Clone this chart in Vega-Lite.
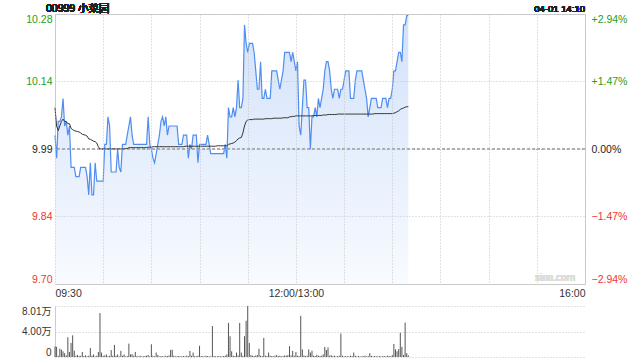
{
  "$schema": "https://vega.github.io/schema/vega-lite/v6.json",
  "background": "white",
  "padding": {"left": 5, "right": 5, "top": 3, "bottom": 5},
  "spacing": 5,
  "config": {
    "font": "Liberation Sans, Noto Sans CJK SC, sans-serif",
    "view": {"stroke": "#cccccc"},
    "axis": {"domain": false, "ticks": false, "labelFont": "Liberation Sans, Noto Sans CJK SC, sans-serif", "labelFontSize": 10.5, "labelColor": "#333333", "gridColor": "#c4c4c4", "gridDash": [1, 2], "gridWidth": 1, "title": null}
  },
  "datasets": {
    "m": [
      {"t":0,"p":10.02,"a":10.08,"v":16500},{"t":1,"p":9.97,"a":10.04,"v":16000},{"t":2,"p":10.05,"a":10.03,"v":2000},{"t":3,"p":10.05,"a":10.04,"v":13000},{"t":4,"p":10.06,"a":10.05,"v":11500},{"t":5,"p":10.10,"a":10.055,"v":9000},{"t":6,"p":10.04,"a":10.05,"v":6000},{"t":7,"p":10.05,"a":10.05,"v":2500},{"t":8,"p":10.02,"a":10.045,"v":31000},{"t":9,"p":10.04,"a":10.045,"v":8000},
      {"t":10,"p":9.95,"a":10.035,"v":22000},{"t":11,"p":9.95,"a":10.032,"v":34000},{"t":12,"p":9.95,"a":10.03,"v":10000},{"t":13,"p":9.93,"a":10.029,"v":2000},{"t":14,"p":9.93,"a":10.028,"v":3000},{"t":15,"p":9.93,"a":10.027,"v":1500},{"t":16,"p":9.95,"a":10.025,"v":1800},{"t":17,"p":9.95,"a":10.022,"v":8000},{"t":18,"p":9.95,"a":10.021,"v":1500},{"t":19,"p":9.95,"a":10.02,"v":2500},
      {"t":20,"p":9.93,"a":10.018,"v":1200},{"t":21,"p":9.89,"a":10.012,"v":2000},{"t":22,"p":9.96,"a":10.011,"v":14000},{"t":23,"p":9.89,"a":10.009,"v":2000},{"t":24,"p":9.89,"a":10.007,"v":4000},{"t":25,"p":9.96,"a":10.006,"v":1000},{"t":26,"p":9.92,"a":10.003,"v":2000},{"t":27,"p":9.92,"a":9.995,"v":8000},{"t":28,"p":9.92,"a":9.99,"v":69000},{"t":29,"p":9.92,"a":9.99,"v":7000},
      {"t":30,"p":9.92,"a":9.99,"v":2000},{"t":31,"p":10.00,"a":9.99,"v":2500},{"t":32,"p":10.00,"a":9.99,"v":4000},{"t":33,"p":10.06,"a":9.99,"v":1200},{"t":34,"p":10.04,"a":9.99,"v":2000},{"t":35,"p":9.94,"a":9.99,"v":11000},{"t":36,"p":9.94,"a":9.99,"v":2000},{"t":37,"p":9.94,"a":9.99,"v":19000},{"t":38,"p":9.94,"a":9.99,"v":2000},{"t":39,"p":9.99,"a":9.99,"v":4000},
      {"t":40,"p":9.95,"a":9.99,"v":1000},{"t":41,"p":9.94,"a":9.99,"v":9600},{"t":42,"p":10.00,"a":9.99,"v":2000},{"t":43,"p":10.00,"a":9.99,"v":4000},{"t":44,"p":10.00,"a":9.991,"v":1000},{"t":45,"p":10.02,"a":9.991,"v":1500},{"t":46,"p":10.04,"a":9.993,"v":21000},{"t":47,"p":10.06,"a":9.993,"v":4000},{"t":48,"p":10.02,"a":9.993,"v":4500},{"t":49,"p":10.00,"a":9.993,"v":2000},
      {"t":50,"p":10.00,"a":9.993,"v":8000},{"t":51,"p":10.00,"a":9.993,"v":1500},{"t":52,"p":10.00,"a":9.993,"v":1000},{"t":53,"p":10.00,"a":9.993,"v":2000},{"t":54,"p":10.00,"a":9.993,"v":1000},{"t":55,"p":10.00,"a":9.993,"v":1200},{"t":56,"p":10.00,"a":9.993,"v":1500},{"t":57,"p":10.00,"a":9.993,"v":2000},{"t":58,"p":10.06,"a":9.994,"v":3000},{"t":59,"p":10.00,"a":9.994,"v":1000},
      {"t":60,"p":9.99,"a":9.994,"v":20000},{"t":61,"p":9.97,"a":9.995,"v":2000},{"t":62,"p":9.96,"a":9.995,"v":1000},{"t":63,"p":9.98,"a":9.995,"v":7000},{"t":64,"p":10.00,"a":9.995,"v":3000},{"t":65,"p":10.02,"a":9.995,"v":1000},{"t":66,"p":10.05,"a":9.995,"v":1500},{"t":67,"p":10.06,"a":9.995,"v":1200},{"t":68,"p":10.04,"a":9.995,"v":1000},{"t":69,"p":10.06,"a":9.995,"v":2000},
      {"t":70,"p":10.02,"a":9.995,"v":1500},{"t":71,"p":10.04,"a":9.995,"v":2500},{"t":72,"p":10.04,"a":9.995,"v":11000},{"t":73,"p":10.04,"a":9.995,"v":11500},{"t":74,"p":10.04,"a":9.995,"v":2000},{"t":75,"p":10.04,"a":9.995,"v":1000},{"t":76,"p":10.04,"a":9.995,"v":1200},{"t":77,"p":10.00,"a":9.995,"v":1500},{"t":78,"p":10.00,"a":9.995,"v":1000},{"t":79,"p":10.00,"a":9.995,"v":1200},
      {"t":80,"p":10.02,"a":9.995,"v":1500},{"t":81,"p":10.02,"a":9.996,"v":1000},{"t":82,"p":10.02,"a":9.996,"v":2000},{"t":83,"p":9.97,"a":9.996,"v":1500},{"t":84,"p":10.00,"a":9.996,"v":9600},{"t":85,"p":9.99,"a":9.996,"v":2000},{"t":86,"p":10.02,"a":9.996,"v":7000},{"t":87,"p":10.02,"a":9.996,"v":1500},{"t":88,"p":10.02,"a":9.996,"v":1000},{"t":89,"p":9.96,"a":9.996,"v":2000},
      {"t":90,"p":10.00,"a":9.996,"v":17600},{"t":91,"p":10.00,"a":9.996,"v":1500},{"t":92,"p":10.00,"a":9.996,"v":1200},{"t":93,"p":10.00,"a":9.996,"v":1000},{"t":94,"p":10.00,"a":9.996,"v":2000},{"t":95,"p":10.02,"a":9.996,"v":1500},{"t":96,"p":10.00,"a":9.996,"v":1000},{"t":97,"p":9.98,"a":9.996,"v":1200},{"t":98,"p":9.98,"a":9.996,"v":48600},{"t":99,"p":9.98,"a":9.996,"v":1500},
      {"t":100,"p":9.98,"a":9.996,"v":1200},{"t":101,"p":9.98,"a":9.997,"v":1000},{"t":102,"p":9.98,"a":9.997,"v":1500},{"t":103,"p":9.98,"a":9.997,"v":1200},{"t":104,"p":9.98,"a":9.997,"v":1000},{"t":105,"p":9.98,"a":9.997,"v":1500},{"t":106,"p":10.00,"a":9.997,"v":2000},{"t":107,"p":9.97,"a":9.997,"v":4000},{"t":108,"p":10.08,"a":10.0,"v":53500},{"t":109,"p":10.06,"a":10.001,"v":32600},
      {"t":110,"p":10.06,"a":10.002,"v":9000},{"t":111,"p":10.08,"a":10.003,"v":2000},{"t":112,"p":10.06,"a":10.005,"v":1500},{"t":113,"p":10.08,"a":10.008,"v":7000},{"t":114,"p":10.14,"a":10.012,"v":2500},{"t":115,"p":10.08,"a":10.014,"v":53500},{"t":116,"p":10.08,"a":10.015,"v":7000},{"t":117,"p":10.10,"a":10.025,"v":2000},{"t":118,"p":10.26,"a":10.04,"v":32600},{"t":119,"p":10.22,"a":10.05,"v":57000},
      {"t":120,"p":10.20,"a":10.053,"v":80100},{"t":121,"p":10.22,"a":10.054,"v":22000},{"t":122,"p":10.22,"a":10.054,"v":3000},{"t":123,"p":10.22,"a":10.054,"v":2000},{"t":124,"p":10.20,"a":10.055,"v":1500},{"t":125,"p":10.16,"a":10.055,"v":2500},{"t":126,"p":10.12,"a":10.055,"v":3000},{"t":127,"p":10.12,"a":10.055,"v":13000},{"t":128,"p":10.18,"a":10.055,"v":2000},{"t":129,"p":10.10,"a":10.055,"v":1500},
      {"t":130,"p":10.10,"a":10.055,"v":30000},{"t":131,"p":10.12,"a":10.056,"v":2000},{"t":132,"p":10.10,"a":10.056,"v":1500},{"t":133,"p":10.10,"a":10.056,"v":7000},{"t":134,"p":10.10,"a":10.056,"v":2000},{"t":135,"p":10.16,"a":10.056,"v":1500},{"t":136,"p":10.16,"a":10.057,"v":1000},{"t":137,"p":10.16,"a":10.057,"v":2000},{"t":138,"p":10.16,"a":10.057,"v":3000},{"t":139,"p":10.14,"a":10.057,"v":1500},
      {"t":140,"p":10.12,"a":10.057,"v":2000},{"t":141,"p":10.14,"a":10.057,"v":1000},{"t":142,"p":10.16,"a":10.058,"v":1500},{"t":143,"p":10.20,"a":10.058,"v":2500},{"t":144,"p":10.20,"a":10.058,"v":2000},{"t":145,"p":10.20,"a":10.058,"v":3000},{"t":146,"p":10.20,"a":10.06,"v":17000},{"t":147,"p":10.18,"a":10.06,"v":2500},{"t":148,"p":10.20,"a":10.061,"v":9600},{"t":149,"p":10.18,"a":10.061,"v":2000},
      {"t":150,"p":10.16,"a":10.062,"v":8000},{"t":151,"p":10.18,"a":10.062,"v":2000},{"t":152,"p":10.04,"a":10.062,"v":1500},{"t":153,"p":10.02,"a":10.062,"v":64700},{"t":154,"p":10.08,"a":10.062,"v":12000},{"t":155,"p":10.14,"a":10.062,"v":2500},{"t":156,"p":10.14,"a":10.062,"v":1500},{"t":157,"p":10.08,"a":10.062,"v":2000},{"t":158,"p":10.08,"a":10.062,"v":12000},{"t":159,"p":9.99,"a":10.062,"v":7000},
      {"t":160,"p":10.06,"a":10.062,"v":10000},{"t":161,"p":10.06,"a":10.063,"v":2000},{"t":162,"p":10.08,"a":10.063,"v":1500},{"t":163,"p":10.06,"a":10.063,"v":3500},{"t":164,"p":10.10,"a":10.063,"v":2000},{"t":165,"p":10.08,"a":10.063,"v":1500},{"t":166,"p":10.10,"a":10.063,"v":2000},{"t":167,"p":10.12,"a":10.064,"v":4000},{"t":168,"p":10.16,"a":10.064,"v":15800},{"t":169,"p":10.18,"a":10.064,"v":11000},
      {"t":170,"p":10.18,"a":10.065,"v":15000},{"t":171,"p":10.16,"a":10.065,"v":2000},{"t":172,"p":10.12,"a":10.065,"v":3000},{"t":173,"p":10.10,"a":10.065,"v":1500},{"t":174,"p":10.12,"a":10.065,"v":2000},{"t":175,"p":10.12,"a":10.065,"v":1000},{"t":176,"p":10.12,"a":10.066,"v":1500},{"t":177,"p":10.10,"a":10.066,"v":2000},{"t":178,"p":10.12,"a":10.066,"v":36900},{"t":179,"p":10.12,"a":10.066,"v":2000},
      {"t":180,"p":10.14,"a":10.066,"v":1000},{"t":181,"p":10.16,"a":10.066,"v":1500},{"t":182,"p":10.16,"a":10.066,"v":1200},{"t":183,"p":10.16,"a":10.066,"v":1000},{"t":184,"p":10.10,"a":10.066,"v":2000},{"t":185,"p":10.10,"a":10.066,"v":1500},{"t":186,"p":10.10,"a":10.066,"v":7000},{"t":187,"p":10.14,"a":10.066,"v":2000},{"t":188,"p":10.16,"a":10.066,"v":1000},{"t":189,"p":10.16,"a":10.066,"v":1500},
      {"t":190,"p":10.16,"a":10.066,"v":1200},{"t":191,"p":10.16,"a":10.066,"v":1000},{"t":192,"p":10.14,"a":10.066,"v":1500},{"t":193,"p":10.12,"a":10.066,"v":2000},{"t":194,"p":10.10,"a":10.066,"v":1000},{"t":195,"p":10.06,"a":10.066,"v":1500},{"t":196,"p":10.08,"a":10.066,"v":6000},{"t":197,"p":10.10,"a":10.066,"v":2000},{"t":198,"p":10.10,"a":10.066,"v":1000},{"t":199,"p":10.10,"a":10.067,"v":1500},
      {"t":200,"p":10.10,"a":10.067,"v":1200},{"t":201,"p":10.08,"a":10.067,"v":1000},{"t":202,"p":10.08,"a":10.067,"v":1500},{"t":203,"p":10.08,"a":10.067,"v":1000},{"t":204,"p":10.10,"a":10.067,"v":1200},{"t":205,"p":10.10,"a":10.067,"v":1500},{"t":206,"p":10.10,"a":10.067,"v":1000},{"t":207,"p":10.08,"a":10.067,"v":2000},{"t":208,"p":10.10,"a":10.067,"v":1500},{"t":209,"p":10.10,"a":10.067,"v":1200},
      {"t":210,"p":10.12,"a":10.067,"v":3000},{"t":211,"p":10.16,"a":10.068,"v":20500},{"t":212,"p":10.16,"a":10.069,"v":12000},{"t":213,"p":10.18,"a":10.071,"v":9000},{"t":214,"p":10.20,"a":10.073,"v":12500},{"t":215,"p":10.20,"a":10.076,"v":38000},{"t":216,"p":10.18,"a":10.078,"v":16000},{"t":217,"p":10.26,"a":10.079,"v":3000},{"t":218,"p":10.26,"a":10.081,"v":54000},{"t":219,"p":10.28,"a":10.082,"v":6000},
      {"t":220,"p":10.28,"a":10.082,"v":2500}
    ]
  },
  "vconcat": [
    {
      "width": 530,
      "height": 270,
      "data": {"name": "m"},
      "resolve": {"scale": {"y": "independent"}, "axis": {"y": "independent"}},
      "layer": [
        {
          "mark": {"type": "area", "color": {"gradient": "linear", "x1": 0, "y1": 0, "x2": 0, "y2": 1, "stops": [{"offset": 0, "color": "#d2e1fa"}, {"offset": 1, "color": "#f8fbff"}]}, "interpolate": "linear"},
          "encoding": {
            "x": {"field": "t", "type": "quantitative", "scale": {"domain": [0, 330], "nice": false, "zero": false},
              "axis": {"values": [0, 30, 60, 90, 120, 150, 180, 210, 240, 270, 300, 330], "grid": true, "zindex": 1, "labelFlush": true, "labelOverlap": false, "labelPadding": 4, "minExtent": 15, "maxExtent": 15,
                "labelExpr": "datum.value == 0 ? '09:30' : datum.value == 150 ? '12:00/13:00' : datum.value == 330 ? '16:00' : ''"}},
            "y": {"field": "p", "type": "quantitative", "scale": {"domain": [9.6963, 10.2837], "nice": false, "zero": false},
              "axis": {"orient": "left", "values": [9.6963, 9.8432, 9.99, 10.1369, 10.2837], "grid": true, "zindex": 1, "labelFlush": true, "labelOverlap": false, "labelPadding": 3, "minExtent": 49, "maxExtent": 49,
                "labelExpr": "format(datum.value, '.2f')",
                "labelColor": {"condition": [{"test": "datum.value > 10", "value": "#22a022"}, {"test": "datum.value < 9.98", "value": "#ee3333"}], "value": "#222222"}}},
            "y2": {"datum": 9.6963}
          }
        },
        {
          "mark": {"type": "rule", "color": "#aaaaaa", "strokeDash": [3, 2], "strokeWidth": 1},
          "encoding": {
            "y": {"datum": 9.99, "type": "quantitative", "scale": {"domain": [9.6963, 10.2837], "nice": false, "zero": false}, "axis": null}
          }
        },
        {
          "mark": {"type": "line", "color": "#4f8ef0", "strokeWidth": 1.2},
          "encoding": {
            "x": {"field": "t", "type": "quantitative"},
            "y": {"field": "p", "type": "quantitative", "scale": {"domain": [9.6963, 10.2837], "nice": false, "zero": false}, "axis": null}
          }
        },
        {
          "mark": {"type": "line", "color": "#333333", "strokeWidth": 1},
          "encoding": {
            "x": {"field": "t", "type": "quantitative"},
            "y": {"field": "a", "type": "quantitative", "scale": {"domain": [9.6963, 10.2837], "nice": false, "zero": false},
              "axis": {"orient": "right", "values": [9.6963, 9.8432, 9.99, 10.1369, 10.2837], "grid": false, "labelFlush": true, "labelOverlap": false, "labelPadding": 6, "minExtent": 51, "maxExtent": 51,
                "labelExpr": "(datum.value > 9.995 ? '+' : '') + format((datum.value - 9.99) / 9.99 * 100, '.2f') + '%'",
                "labelColor": {"condition": [{"test": "datum.value > 10", "value": "#22a022"}, {"test": "datum.value < 9.98", "value": "#ee3333"}], "value": "#222222"}}}
          }
        },
        {
          "mark": {"type": "text", "text": "00999 小菜园", "align": "left", "baseline": "alphabetic", "dx": -9, "dy": -2, "fontSize": 10.5, "color": "#222222"},
          "encoding": {
            "x": {"datum": 0, "type": "quantitative"},
            "y": {"datum": 10.2837, "type": "quantitative", "scale": {"domain": [9.6963, 10.2837], "nice": false, "zero": false}, "axis": null}
          }
        },
        {
          "mark": {"type": "text", "text": "04-01 14:10", "align": "right", "baseline": "alphabetic", "dx": 0, "dy": -2, "fontSize": 9.5, "color": "#222222"},
          "encoding": {
            "x": {"datum": 330, "type": "quantitative"},
            "y": {"datum": 10.2837, "type": "quantitative", "scale": {"domain": [9.6963, 10.2837], "nice": false, "zero": false}, "axis": null}
          }
        },
        {
          "mark": {"type": "text", "text": "sina.com", "align": "right", "baseline": "bottom", "dx": -10, "dy": -1, "fontSize": 10, "color": "#dddddd"},
          "encoding": {
            "x": {"datum": 330, "type": "quantitative"},
            "y": {"datum": 9.6963, "type": "quantitative", "scale": {"domain": [9.6963, 10.2837], "nice": false, "zero": false}, "axis": null}
          }
        }
      ]
    },
    {
      "width": 530,
      "height": 51,
      "data": {"name": "m"},
      "view": {"stroke": null},
      "mark": {"type": "rule", "color": "#555555", "strokeWidth": 1},
      "encoding": {
        "x": {"field": "t", "type": "quantitative", "scale": {"domain": [0, 330], "nice": false, "zero": false}, "axis": null},
        "y": {"field": "v", "type": "quantitative", "scale": {"domain": [0, 80100], "nice": false},
          "axis": {"values": [0, 40050, 80100], "grid": true, "domain": true, "domainColor": "#cccccc", "labelFlush": true, "labelOverlap": false, "labelPadding": 4, "minExtent": 49, "maxExtent": 49, "labelFontSize": 10,
            "labelExpr": "datum.value == 0 ? '0' : format(datum.value / 10000, '.2f') + '万'"}},
        "y2": {"datum": 0}
      }
    }
  ]
}
